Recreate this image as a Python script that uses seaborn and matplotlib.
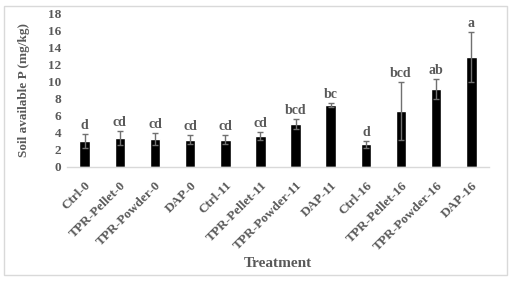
import numpy as np
import matplotlib
matplotlib.use("Agg")
import matplotlib.pyplot as plt
import seaborn as sns
import pandas as pd

# Data
treatments = ["Ctrl-0", "TPR-Pellet-0", "TPR-Powder-0", "DAP-0",
              "Ctrl-11", "TPR-Pellet-11", "TPR-Powder-11", "DAP-11",
              "Ctrl-16", "TPR-Pellet-16", "TPR-Powder-16", "DAP-16"]
mean_p = [3.0, 3.35, 3.3, 3.2, 3.2, 3.65, 5.05, 7.3, 2.67, 6.55, 9.1, 12.9]
err_p = [0.8, 0.8, 0.7, 0.48, 0.48, 0.45, 0.6, 0.23, 0.4, 3.35, 1.15, 2.9]
letters = ["d", "cd", "cd", "cd", "cd", "cd", "bcd", "bc", "d", "bcd", "ab", "a"]

df = pd.DataFrame({"Treatment": treatments, "P": mean_p})

sns.set_style("white")
plt.rcParams["font.family"] = ["Liberation Serif", "DejaVu Serif"]
plt.rcParams["font.weight"] = "bold"

grey = "#595959"

fig = plt.figure(figsize=(5.12, 2.81), dpi=100)
ax = fig.add_axes([0.131, 0.406, 0.824, 0.547])

sns.barplot(data=df, x="Treatment", y="P", color="black", width=0.3,
            saturation=1, ax=ax)

# error bars and significance letters
xs = [p.get_x() + p.get_width() / 2 for p in ax.patches]
ax.errorbar(xs, mean_p, yerr=err_p, fmt="none", ecolor="#707070",
            elinewidth=1, capsize=2.5, capthick=1)
for x, m, e, lab in zip(xs, mean_p, err_p, letters):
    ax.annotate(lab, (x, m + e), xytext=(0, 1.5), textcoords="offset points",
                ha="center", va="bottom", fontsize=10, fontweight="bold",
                color=grey)

ax.set_ylim(0, 18)
ax.set_yticks(np.arange(0, 19, 2))
ax.set_xlim(-0.5, len(treatments) - 0.5)

for s in ["top", "right", "left"]:
    ax.spines[s].set_visible(False)
ax.spines["bottom"].set_color("#d9d9d9")
ax.spines["bottom"].set_linewidth(1)

ax.tick_params(axis="y", length=0, colors=grey, labelsize=9.5, pad=4)
ax.tick_params(axis="x", length=0, colors=grey, labelsize=9.5, pad=9)
plt.setp(ax.get_xticklabels(), rotation=45, ha="right", rotation_mode="anchor",
         fontweight="bold")
plt.setp(ax.get_yticklabels(), fontweight="bold")

ax.set_xlabel("Treatment", fontsize=11, fontweight="bold", color=grey,
              labelpad=3)
ax.set_ylabel("Soil available P (mg/kg)", fontsize=9.5, fontweight="bold",
              color=grey, labelpad=13)

# light frame around whole chart
frame = plt.Rectangle((0.008, 0.02), 0.982, 0.958, transform=fig.transFigure,
                      fill=False, edgecolor="#d9d9d9", linewidth=1)
fig.patches.append(frame)

fig.savefig("out.png", dpi=100)
